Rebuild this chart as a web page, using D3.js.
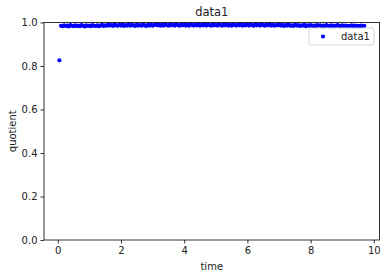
<!DOCTYPE html>
<html>
<head>
<meta charset="utf-8">
<script src="https://cdn.jsdelivr.net/npm/d3@7"></script>
<style>
  body { margin: 0; background: #fff; }
  svg { display: block; font-family: "DejaVu Sans", sans-serif; }
</style>
</head>
<body>
<svg></svg>
<script>
var time = [0.05, 0.1, 0.15, 0.2, 0.25, 0.3, 0.35, 0.4, 0.45, 0.5,
  0.55, 0.6, 0.65, 0.7, 0.75, 0.8, 0.85, 0.9, 0.95, 1.0,
  1.05, 1.1, 1.15, 1.2, 1.25, 1.3, 1.35, 1.4, 1.45, 1.5,
  1.55, 1.6, 1.65, 1.7, 1.75, 1.8, 1.85, 1.9, 1.95, 2.0,
  2.05, 2.1, 2.15, 2.2, 2.25, 2.3, 2.35, 2.4, 2.45, 2.5,
  2.55, 2.6, 2.65, 2.7, 2.75, 2.8, 2.85, 2.9, 2.95, 3.0,
  3.05, 3.1, 3.15, 3.2, 3.25, 3.3, 3.35, 3.4, 3.45, 3.5,
  3.55, 3.6, 3.65, 3.7, 3.75, 3.8, 3.85, 3.9, 3.95, 4.0,
  4.05, 4.1, 4.15, 4.2, 4.25, 4.3, 4.35, 4.4, 4.45, 4.5,
  4.55, 4.6, 4.65, 4.7, 4.75, 4.8, 4.85, 4.9, 4.95, 5.0,
  5.05, 5.1, 5.15, 5.2, 5.25, 5.3, 5.35, 5.4, 5.45, 5.5,
  5.55, 5.6, 5.65, 5.7, 5.75, 5.8, 5.85, 5.9, 5.95, 6.0,
  6.05, 6.1, 6.15, 6.2, 6.25, 6.3, 6.35, 6.4, 6.45, 6.5,
  6.55, 6.6, 6.65, 6.7, 6.75, 6.8, 6.85, 6.9, 6.95, 7.0,
  7.05, 7.1, 7.15, 7.2, 7.25, 7.3, 7.35, 7.4, 7.45, 7.5,
  7.55, 7.6, 7.65, 7.7, 7.75, 7.8, 7.85, 7.9, 7.95, 8.0,
  8.05, 8.1, 8.15, 8.2, 8.25, 8.3, 8.35, 8.4, 8.45, 8.5,
  8.55, 8.6, 8.65, 8.7, 8.75, 8.8, 8.85, 8.9, 8.95, 9.0,
  9.05, 9.1, 9.15, 9.2, 9.25, 9.3, 9.35, 9.4, 9.45, 9.5,
  9.55, 9.6, 9.65, 9.7];
var quotient = [0.826, 0.985, 0.983, 0.987, 0.984, 0.986, 0.982, 0.988, 0.985, 0.983,
  0.987, 0.984, 0.986, 0.983, 0.988, 0.985, 0.982, 0.987, 0.984, 0.986,
  0.983, 0.988, 0.985, 0.984, 0.987, 0.983, 0.986, 0.989, 0.984, 0.987,
  0.985, 0.990, 0.986, 0.988, 0.984, 0.991, 0.987, 0.985, 0.989, 0.986,
  0.990, 0.984, 0.988, 0.986, 0.991, 0.985, 0.989, 0.987, 0.984, 0.990,
  0.986, 0.988, 0.985, 0.991, 0.987, 0.984, 0.989, 0.986, 0.990, 0.985,
  0.988, 0.992, 0.987, 0.990, 0.985, 0.989, 0.986, 0.992, 0.988, 0.985,
  0.991, 0.987, 0.989, 0.986, 0.992, 0.988, 0.985, 0.990, 0.987, 0.991,
  0.986, 0.989, 0.985, 0.992, 0.988, 0.986, 0.990, 0.987, 0.991, 0.985,
  0.989, 0.987, 0.992, 0.986, 0.990, 0.988, 0.985, 0.991, 0.987, 0.989,
  0.986, 0.992, 0.988, 0.985, 0.990, 0.987, 0.991, 0.986, 0.989, 0.985,
  0.992, 0.988, 0.986, 0.990, 0.987, 0.991, 0.985, 0.989, 0.987, 0.992,
  0.986, 0.990, 0.988, 0.985, 0.991, 0.987, 0.989, 0.986, 0.992, 0.988,
  0.985, 0.990, 0.987, 0.991, 0.986, 0.989, 0.985, 0.988, 0.987, 0.990,
  0.986, 0.989, 0.984, 0.988, 0.986, 0.990, 0.985, 0.987, 0.984, 0.989,
  0.986, 0.988, 0.984, 0.987, 0.985, 0.989, 0.983, 0.987, 0.985, 0.988,
  0.984, 0.986, 0.983, 0.988, 0.985, 0.987, 0.984, 0.986, 0.983, 0.988,
  0.985, 0.984, 0.987, 0.983, 0.986, 0.984, 0.988, 0.985, 0.983, 0.987,
  0.984, 0.986, 0.983, 0.985, 0.984, 0.987, 0.983, 0.986, 0.984, 0.985,
  0.983, 0.986, 0.984, 0.985];
var xTicks = [0, 2, 4, 6, 8, 10];
var yTicks = [0.0, 0.2, 0.4, 0.6, 0.8, 1.0];

var svgWidth = 389, svgHeight = 278;
var plotLeft = 44, plotRight = 379.5, plotTop = 22.5, plotBottom = 240;

var svg = d3.select("svg")
  .attr("width", svgWidth)
  .attr("height", svgHeight);

var xScale = d3.scaleLinear()
  .domain([-0.437, 10.18])
  .range([plotLeft, plotRight]);
var yScale = d3.scaleLinear()
  .domain([0, 1])
  .range([plotBottom, plotTop]);

// points
svg.append("g")
  .selectAll("circle")
  .data(time)
  .enter()
  .append("circle")
  .attr("cx", function(d) { return xScale(d); })
  .attr("cy", function(d, i) { return yScale(quotient[i]); })
  .attr("r", 2.1)
  .attr("fill", "#0000ff");

// axes
var xAxis = d3.axisBottom(xScale)
  .tickValues(xTicks)
  .tickSize(3.5)
  .tickPadding(3)
  .tickFormat(d3.format("d"));
var yAxis = d3.axisLeft(yScale)
  .tickValues(yTicks)
  .tickSize(3.5)
  .tickPadding(3)
  .tickFormat(d3.format(".1f"));

var gx = svg.append("g")
  .attr("transform", "translate(0," + plotBottom + ")")
  .call(xAxis);
var gy = svg.append("g")
  .attr("transform", "translate(" + plotLeft + ",0)")
  .call(yAxis);

[gx, gy].forEach(function(g) {
  g.select(".domain").remove();
  g.selectAll("line").attr("stroke", "#000").attr("stroke-width", 0.8);
  g.selectAll("text")
    .attr("fill", "#222")
    .style("font-size", "10px")
    .style("font-family", "DejaVu Sans");
});

// frame
svg.append("rect")
  .attr("x", plotLeft)
  .attr("y", plotTop)
  .attr("width", plotRight - plotLeft)
  .attr("height", plotBottom - plotTop)
  .attr("fill", "none")
  .attr("stroke", "#000")
  .attr("stroke-width", 0.8);

// title & labels
svg.append("text")
  .attr("x", (plotLeft + plotRight) / 2)
  .attr("y", 16)
  .attr("text-anchor", "middle")
  .style("font-size", "11.5px")
  .attr("fill", "#222")
  .text("data1");

svg.append("text")
  .attr("x", (plotLeft + plotRight) / 2)
  .attr("y", 270)
  .attr("text-anchor", "middle")
  .style("font-size", "10px")
  .attr("fill", "#222")
  .text("time");

svg.append("text")
  .attr("transform", "translate(15.5," + ((plotTop + plotBottom) / 2) + ") rotate(-90)")
  .attr("text-anchor", "middle")
  .style("font-size", "10px")
  .attr("fill", "#222")
  .text("quotient");

// legend
var legend = svg.append("g");
legend.append("rect")
  .attr("x", 309)
  .attr("y", 28)
  .attr("width", 65)
  .attr("height", 17)
  .attr("rx", 2)
  .attr("fill", "#fff")
  .attr("fill-opacity", 0.8)
  .attr("stroke", "#ccc")
  .attr("stroke-width", 0.8);
legend.append("circle")
  .attr("cx", 323)
  .attr("cy", 36.5)
  .attr("r", 2.1)
  .attr("fill", "#0000ff");
legend.append("text")
  .attr("x", 341)
  .attr("y", 40)
  .style("font-size", "10px")
  .attr("fill", "#222")
  .text("data1");
</script>
</body>
</html>
